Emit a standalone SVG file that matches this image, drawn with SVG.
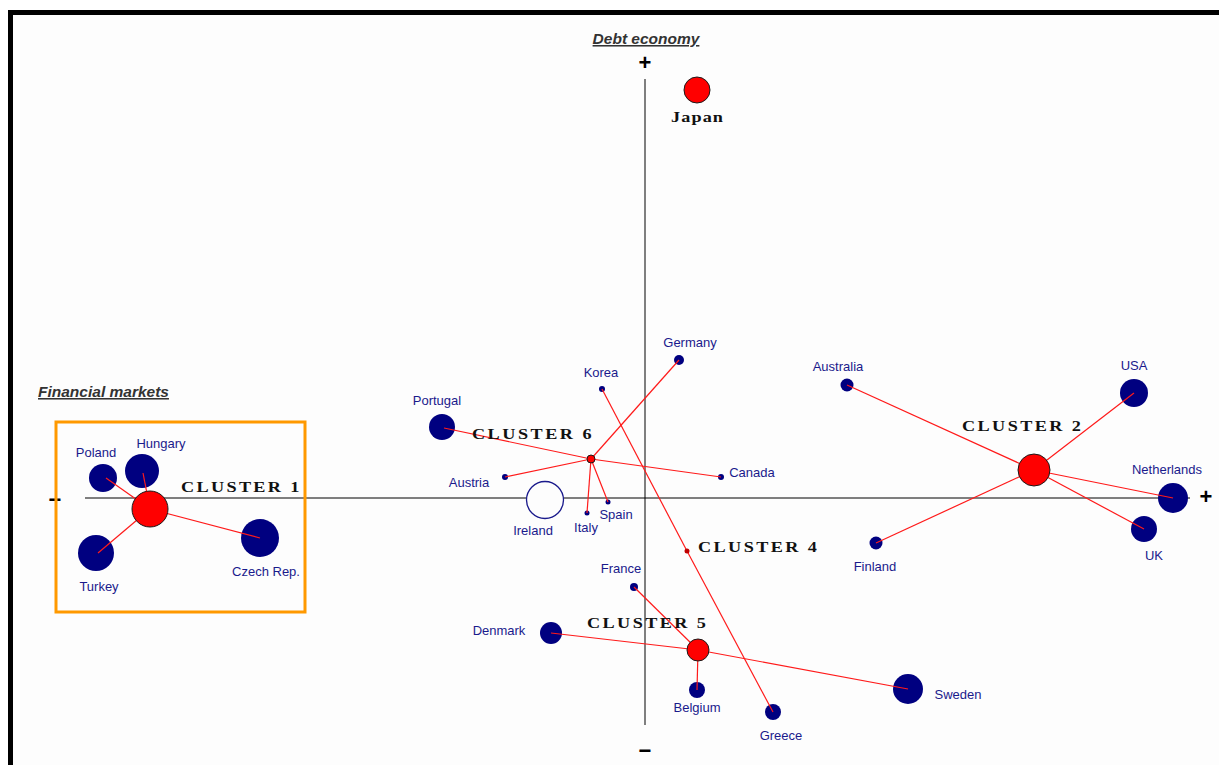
<svg xmlns="http://www.w3.org/2000/svg" width="1219" height="765" viewBox="0 0 1219 765">
  <style>
    .lbl { font-family: "Liberation Sans", Arial, sans-serif; font-size: 13px; fill: #1a1a8c; text-anchor: middle; }
    .cl { font-family: "Liberation Serif", "Times New Roman", serif; font-size: 14px; font-weight: bold; fill: #111; }
    .axt { font-family: "Liberation Sans", Arial, sans-serif; font-size: 15.5px; font-weight: bold; font-style: italic; fill: #333; text-decoration: underline; }
    .sign { font-family: "Liberation Sans", Arial, sans-serif; font-size: 22px; font-weight: bold; fill: #000; text-anchor: middle; }
    .country { fill: #000080; }
    .centroid { fill: #ff0000; stroke: #1a1a1a; stroke-width: 1; }
    .link { stroke: #ff1a1a; stroke-width: 1.2; fill: none; }
  </style>

  <!-- canvas and frame -->
  <rect x="0" y="0" width="1219" height="765" fill="#ffffff"/>
  <rect x="10.5" y="12.5" width="1300" height="900" fill="#fdfdfd" stroke="#000" stroke-width="5"/>

  <!-- axes -->
  <g id="axes">
    <line x1="645" y1="79" x2="645" y2="725" stroke="#555" stroke-width="1.5"/>
    <line x1="85" y1="498" x2="1190" y2="498" stroke="#000" stroke-width="1"/>
    <text class="axt" x="646" y="44" text-anchor="middle">Debt economy</text>
    <text class="axt" x="38" y="397">Financial markets</text>
    <text class="sign" x="645" y="70">+</text>
    <text class="sign" x="1206" y="504">+</text>
    <text class="sign" x="55" y="507">−</text>
    <text class="sign" x="645" y="758">−</text>
  </g>

  <!-- highlight box around cluster 1 -->
  <rect id="cluster1-box" x="56" y="422" width="249" height="190" fill="none" stroke="#ff9900" stroke-width="3"/>

  <!-- country points -->
  <g id="poland"><circle class="country" cx="103" cy="478" r="14"/><text class="lbl" x="96" y="457">Poland</text></g>
  <g id="hungary"><circle class="country" cx="142" cy="471" r="17"/><text class="lbl" x="161" y="448">Hungary</text></g>
  <g id="turkey"><circle class="country" cx="96" cy="553" r="18"/><text class="lbl" x="99" y="591">Turkey</text></g>
  <g id="czech"><circle class="country" cx="260" cy="538" r="19"/><text class="lbl" x="266" y="576">Czech Rep.</text></g>

  <g id="portugal"><circle class="country" cx="442" cy="427" r="13"/><text class="lbl" x="437" y="405">Portugal</text></g>
  <g id="korea"><circle class="country" cx="602" cy="389" r="3"/><text class="lbl" x="601" y="377">Korea</text></g>
  <g id="germany"><circle class="country" cx="679" cy="360" r="5"/><text class="lbl" x="690" y="347">Germany</text></g>
  <g id="austria"><circle class="country" cx="505" cy="477" r="3"/><text class="lbl" x="469" y="487">Austria</text></g>
  <g id="canada"><circle class="country" cx="721" cy="477" r="3"/><text class="lbl" x="752" y="477">Canada</text></g>
  <g id="ireland"><circle cx="545" cy="500" r="18.5" fill="#fdfdfd" stroke="#1a1a8c" stroke-width="1.3"/><text class="lbl" x="533" y="535">Ireland</text></g>
  <g id="italy"><circle class="country" cx="587" cy="513" r="2.5"/><text class="lbl" x="586" y="532">Italy</text></g>
  <g id="spain"><circle class="country" cx="608" cy="502" r="2.5"/><text class="lbl" x="616" y="519">Spain</text></g>

  <g id="australia"><circle class="country" cx="847" cy="385" r="6.5"/><text class="lbl" x="838" y="371">Australia</text></g>
  <g id="usa"><circle class="country" cx="1134" cy="393" r="14"/><text class="lbl" x="1134" y="370">USA</text></g>
  <g id="netherlands"><circle class="country" cx="1173" cy="498" r="15"/><text class="lbl" x="1167" y="474">Netherlands</text></g>
  <g id="uk"><circle class="country" cx="1144" cy="529" r="13"/><text class="lbl" x="1154" y="560">UK</text></g>
  <g id="finland"><circle class="country" cx="876" cy="543" r="6.5"/><text class="lbl" x="875" y="571">Finland</text></g>

  <g id="france"><circle class="country" cx="634" cy="587" r="4"/><text class="lbl" x="621" y="573">France</text></g>
  <g id="denmark"><circle class="country" cx="551" cy="633" r="11"/><text class="lbl" x="499" y="635">Denmark</text></g>
  <g id="belgium"><circle class="country" cx="697" cy="690" r="8"/><text class="lbl" x="697" y="712">Belgium</text></g>
  <g id="greece"><circle class="country" cx="773" cy="712" r="8"/><text class="lbl" x="781" y="740">Greece</text></g>
  <g id="sweden"><circle class="country" cx="908" cy="689" r="15"/><text class="lbl" x="958" y="699">Sweden</text></g>

  <!-- connectors: each country to its cluster centre -->
  <g id="connectors">
    <line class="link" x1="150" y1="509" x2="106" y2="478"/>
    <line class="link" x1="150" y1="509" x2="143" y2="473"/>
    <line class="link" x1="150" y1="509" x2="98" y2="553"/>
    <line class="link" x1="150" y1="509" x2="260" y2="538"/>

    <line class="link" x1="591" y1="459" x2="444" y2="428"/>
    <line class="link" x1="591" y1="459" x2="721" y2="477"/>
    <line class="link" x1="591" y1="459" x2="679" y2="360"/>
    <line class="link" x1="591" y1="459" x2="505" y2="477"/>
    <line class="link" x1="591" y1="459" x2="587" y2="513"/>
    <line class="link" x1="591" y1="459" x2="608" y2="502"/>

    <line class="link" x1="1034" y1="470" x2="847" y2="385"/>
    <line class="link" x1="1034" y1="470" x2="1134" y2="393"/>
    <line class="link" x1="1034" y1="470" x2="1173" y2="498"/>
    <line class="link" x1="1034" y1="470" x2="1144" y2="529"/>
    <line class="link" x1="1034" y1="470" x2="876" y2="543"/>

    <line class="link" x1="687" y1="551" x2="602" y2="389"/>
    <line class="link" x1="687" y1="551" x2="773" y2="712"/>

    <line class="link" x1="698" y1="650" x2="634" y2="587"/>
    <line class="link" x1="698" y1="650" x2="551" y2="633"/>
    <line class="link" x1="698" y1="650" x2="697" y2="690"/>
    <line class="link" x1="698" y1="650" x2="908" y2="689"/>
  </g>

  <!-- cluster centres; titles use a widened serif face -->
  <g id="japan"><circle class="centroid" cx="697" cy="90" r="13" stroke="#000080" stroke-width="1.5"/><text class="cl" transform="translate(671,122) scale(1.3,1)" textLength="40" lengthAdjust="spacing">Japan</text></g>
  <g id="cluster1"><circle class="centroid" cx="150" cy="509" r="18"/><text class="cl" transform="translate(181,492) scale(1.3,1)" textLength="91" lengthAdjust="spacing">CLUSTER 1</text></g>
  <g id="cluster2"><circle class="centroid" cx="1034" cy="470" r="16"/><text class="cl" transform="translate(962,431) scale(1.3,1)" textLength="91.5" lengthAdjust="spacing">CLUSTER 2</text></g>
  <g id="cluster4"><circle cx="687" cy="551" r="2.5" fill="#c00000"/><text class="cl" transform="translate(698,552) scale(1.3,1)" textLength="91.5" lengthAdjust="spacing">CLUSTER 4</text></g>
  <g id="cluster5"><circle class="centroid" cx="698" cy="650" r="11"/><text class="cl" transform="translate(587,628) scale(1.3,1)" textLength="91.5" lengthAdjust="spacing">CLUSTER 5</text></g>
  <g id="cluster6"><circle class="centroid" cx="591" cy="459" r="4"/><text class="cl" transform="translate(472,439) scale(1.3,1)" textLength="92" lengthAdjust="spacing">CLUSTER 6</text></g>
</svg>
